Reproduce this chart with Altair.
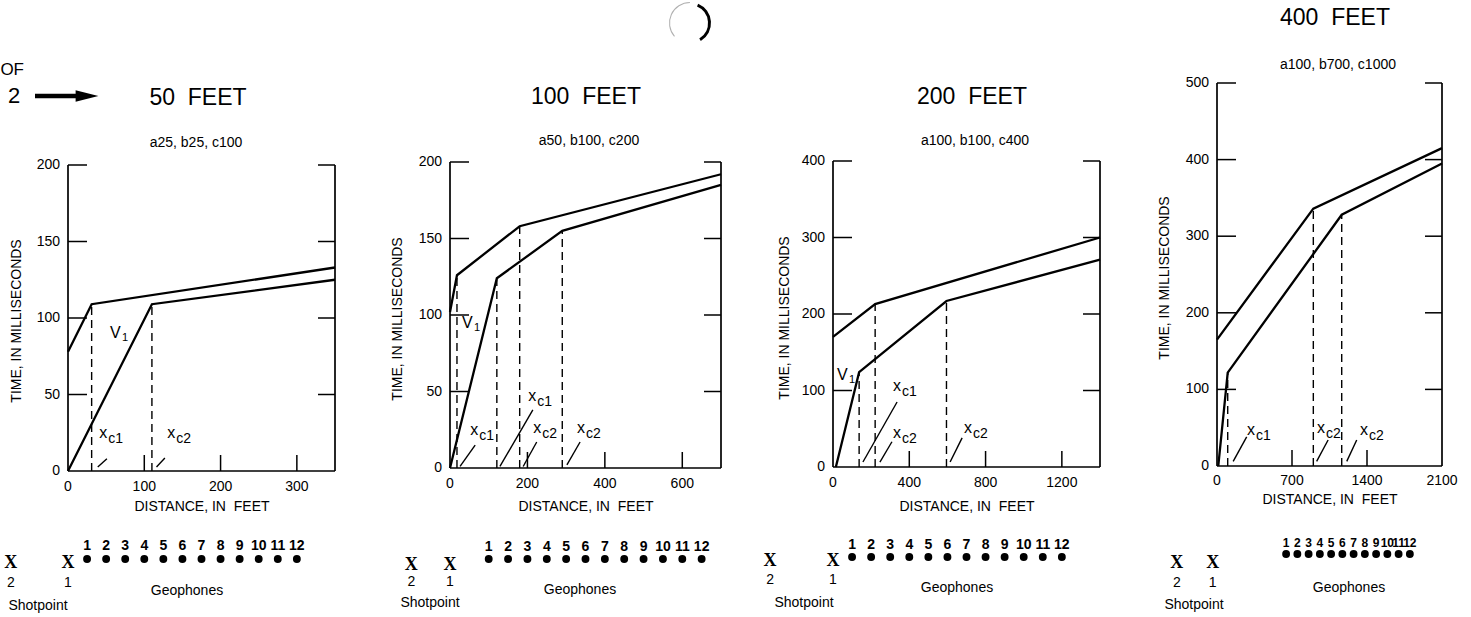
import altair as alt
import pandas as pd

IMG_H = 617
FONT = "Liberation Sans"

# ---------------- values ----------------
# Panel 1: 50 FEET
P1_UP_X = [0, 31, 350]
P1_UP_T = [78, 109, 133]
P1_LO_X = [0, 110, 350]
P1_LO_T = [0, 109, 125]
P1_DASH_X = [31, 110]
P1_DASH_T = [109, 109]
P1_XTICKS = [0, 100, 200, 300]
P1_YTICKS = [0, 50, 100, 150, 200]
P1_V1 = [55, 90]
P1_XC_LAB = ["c1", "c2"]
P1_XC_X = [41, 130]
P1_XC_T = [23.5, 23.5]
P1_LEAD = [[51, 8, 39, 2.6], [127, 8.5, 116, 2.6]]
P1_SHOT_X = [-75, 0]
P1_GEO_X = [25, 50, 75, 100, 125, 150, 175, 200, 225, 250, 275, 300]

# Panel 2: 100 FEET
P2_UP_X = [0, 18, 180, 700]
P2_UP_T = [102, 126, 158, 192]
P2_LO_X = [0, 121, 290, 700]
P2_LO_T = [0, 124, 155, 185]
P2_DASH_X = [18, 121, 180, 290]
P2_DASH_T = [126, 124, 158, 155]
P2_XTICKS = [0, 200, 400, 600]
P2_YTICKS = [0, 50, 100, 150, 200]
P2_V1 = [31, 95]
P2_XC_LAB = ["c1", "c1", "c2", "c2"]
P2_XC_X = [52, 202, 215, 328]
P2_XC_T = [23.5, 46, 25, 25]
P2_LEAD = [[65, 15, 26, 1], [214, 38, 129, 1], [224, 17, 189, 1], [336, 17, 302, 2]]
P2_SHOT_X = [-100, 0]
P2_GEO_X = [100, 150, 200, 250, 300, 350, 400, 450, 500, 550, 600, 650]

# Panel 3: 200 FEET
P3_UP_X = [0, 221, 1400]
P3_UP_T = [170, 213, 300]
P3_LO_X = [15, 137, 595, 1400]
P3_LO_T = [0, 124, 217, 271]
P3_DASH_X = [137, 221, 595]
P3_DASH_T = [124, 213, 217]
P3_XTICKS = [0, 400, 800, 1200]
P3_YTICKS = [0, 100, 200, 300, 400]
P3_V1 = [21, 120]
P3_XC_LAB = ["c1", "c2", "c2"]
P3_XC_X = [315, 315, 687]
P3_XC_T = [103, 42, 48]
P3_LEAD = [[336, 85, 157, 6.5], [309, 33, 246, 6.5], [677, 38, 614, 6.5]]
P3_SHOT_X = [-330, 0]
P3_GEO_X = [100, 200, 300, 400, 500, 600, 700, 800, 900, 1000, 1100, 1200]

# Panel 4: 400 FEET
P4_UP_X = [0, 899, 2100]
P4_UP_T = [165, 336, 415]
P4_LO_X = [12, 100, 1164, 2100]
P4_LO_T = [0, 122, 328, 395]
P4_DASH_X = [100, 899, 1164]
P4_DASH_T = [122, 336, 328]
P4_XTICKS = [0, 700, 1400, 2100]
P4_YTICKS = [0, 100, 200, 300, 400, 500]
P4_V1 = None
P4_XC_LAB = ["c1", "c2", "c2"]
P4_XC_X = [280, 933, 1335]
P4_XC_T = [44, 47, 44]
P4_LEAD = [[277, 38, 151, 6], [1037, 34, 930, 6], [1304, 34, 1211, 6]]
P4_SHOT_X = [-375, -40]
P4_GEO_X = [645, 750, 855, 960, 1065, 1170, 1275, 1380, 1485, 1590, 1695, 1800]

NBSP = "\u00a0"
TITLES = ["50" + NBSP * 2 + "FEET", "100" + NBSP * 2 + "FEET", "200" + NBSP * 2 + "FEET", "400" + NBSP * 2 + "FEET"]
SUBTITLES = ["a25, b25, c100", "a50, b100, c200", "a100, b100, c400", "a100, b700, c1000"]
GEO_LABELS = ["1", "2", "3", "4", "5", "6", "7", "8", "9", "10", "11", "12"]
SHOT_LABELS = ["2", "1"]
Y_TITLE = "TIME, IN MILLISECONDS"
X_TITLE = "DISTANCE, IN" + NBSP + " FEET"

# ---------------- layout (pixels in the 1471x617 picture) ----------------
LAYOUT = [
    dict(left=0, right=390, x0=68, xend=335, bottom=471, ytop=165,
         title=(198, 98), sub=(196, 143), ytitle=(17, 321), xtitle=(202, 507), xlab_dy=16,
         num_y=546, num_size=14, dot_y=559, shot_y=563, shotnum_y=583, geo=(187, 591), shotp=(38, 606)),
    dict(left=390, right=775, x0=450, xend=721, bottom=468, ytop=162,
         title=(586, 97), sub=(589, 141), ytitle=(398, 319), xtitle=(586, 507), xlab_dy=16,
         num_y=547, num_size=14, dot_y=559, shot_y=565, shotnum_y=582, geo=(580, 590), shotp=(430, 603)),
    dict(left=775, right=1160, x0=833, xend=1100, bottom=467, ytop=161,
         title=(972, 97), sub=(975, 141), ytitle=(785, 318), xtitle=(967, 507), xlab_dy=16,
         num_y=545, num_size=14, dot_y=557, shot_y=561, shotnum_y=580, geo=(957, 588), shotp=(804, 603)),
    dict(left=1160, right=1471, x0=1217, xend=1442, bottom=466, ytop=83,
         title=(1335, 18), sub=(1338, 65), ytitle=(1165, 278), xtitle=(1330, 500), xlab_dy=15,
         num_y=543, num_size=12, dot_y=554, shot_y=563, shotnum_y=583, geo=(1349, 588), shotp=(1194, 605)),
]

PANELS = [
    dict(up_x=P1_UP_X, up_t=P1_UP_T, lo_x=P1_LO_X, lo_t=P1_LO_T, dash_x=P1_DASH_X, dash_t=P1_DASH_T,
         xticks=P1_XTICKS, yticks=P1_YTICKS, v1=P1_V1, xc_lab=P1_XC_LAB, xc_x=P1_XC_X, xc_t=P1_XC_T,
         lead=P1_LEAD, shot_x=P1_SHOT_X, geo_x=P1_GEO_X),
    dict(up_x=P2_UP_X, up_t=P2_UP_T, lo_x=P2_LO_X, lo_t=P2_LO_T, dash_x=P2_DASH_X, dash_t=P2_DASH_T,
         xticks=P2_XTICKS, yticks=P2_YTICKS, v1=P2_V1, xc_lab=P2_XC_LAB, xc_x=P2_XC_X, xc_t=P2_XC_T,
         lead=P2_LEAD, shot_x=P2_SHOT_X, geo_x=P2_GEO_X),
    dict(up_x=P3_UP_X, up_t=P3_UP_T, lo_x=P3_LO_X, lo_t=P3_LO_T, dash_x=P3_DASH_X, dash_t=P3_DASH_T,
         xticks=P3_XTICKS, yticks=P3_YTICKS, v1=P3_V1, xc_lab=P3_XC_LAB, xc_x=P3_XC_X, xc_t=P3_XC_T,
         lead=P3_LEAD, shot_x=P3_SHOT_X, geo_x=P3_GEO_X),
    dict(up_x=P4_UP_X, up_t=P4_UP_T, lo_x=P4_LO_X, lo_t=P4_LO_T, dash_x=P4_DASH_X, dash_t=P4_DASH_T,
         xticks=P4_XTICKS, yticks=P4_YTICKS, v1=P4_V1, xc_lab=P4_XC_LAB, xc_x=P4_XC_X, xc_t=P4_XC_T,
         lead=P4_LEAD, shot_x=P4_SHOT_X, geo_x=P4_GEO_X),
]

NO_FRAME = alt.ViewBackground(stroke="transparent", strokeWidth=0, fill="white")


def text_at(L, txt, x, y, **kw):
    style = dict(font=FONT, fontSize=14, color="black", baseline="middle", align="center")
    style.update(kw)
    return alt.Chart(pd.DataFrame({"t": [txt]})).mark_text(**style).encode(
        x=alt.value(x - L["left"]), y=alt.value(y), text="t:N")


def build_panel(i):
    d, L = PANELS[i], LAYOUT[i]
    ymax = d["yticks"][-1]
    xmax = d["up_x"][-1]
    kx = (L["xend"] - L["x0"]) / xmax
    ky = (L["bottom"] - L["ytop"]) / ymax
    xs = alt.Scale(domain=[(L["left"] - L["x0"]) / kx, (L["right"] - L["x0"]) / kx], nice=False, zero=False)
    ys = alt.Scale(domain=[-(IMG_H - L["bottom"]) / ky, L["bottom"] / ky], nice=False, zero=False)

    def X(f):
        return alt.X(f, type="quantitative", scale=xs, axis=None)

    def Y(f):
        return alt.Y(f, type="quantitative", scale=ys, axis=None)

    layers = []
    # frame: left, right, bottom
    frame = pd.DataFrame({"x": [0, xmax, 0], "x2": [0, xmax, xmax], "y": [0, 0, 0], "y2": [ymax, ymax, 0]})
    layers.append(alt.Chart(frame).mark_rule(color="black", strokeWidth=1.7).encode(
        x=X("x"), x2=alt.X2("x2"), y=Y("y"), y2=alt.Y2("y2")))
    # y ticks (inward) on both sides
    yt = pd.DataFrame({"v": d["yticks"][1:], "a": 0, "b": xmax})
    layers.append(alt.Chart(yt).mark_rule(color="black", strokeWidth=1.5, x2Offset=19).encode(
        x=X("a"), x2=alt.X2("a"), y=Y("v")))
    layers.append(alt.Chart(yt).mark_rule(color="black", strokeWidth=1.5, x2Offset=-17).encode(
        x=X("b"), x2=alt.X2("b"), y=Y("v")))
    # x ticks (inward, up) on the bottom
    inner = [v for v in d["xticks"] if 0 < v < xmax]
    xt = pd.DataFrame({"v": inner, "z": 0})
    layers.append(alt.Chart(xt).mark_rule(color="black", strokeWidth=1.5, y2Offset=-16).encode(
        x=X("v"), y=Y("z"), y2=alt.Y2("z")))
    # tick labels
    yl = pd.DataFrame({"v": d["yticks"], "lab": [str(v) for v in d["yticks"]], "a": 0})
    layers.append(alt.Chart(yl).mark_text(font=FONT, fontSize=14, align="right", baseline="middle",
                                          dx=-8, color="black").encode(x=X("a"), y=Y("v"), text="lab:N"))
    xl = pd.DataFrame({"v": d["xticks"], "lab": [str(v) for v in d["xticks"]], "z": 0})
    layers.append(alt.Chart(xl).mark_text(font=FONT, fontSize=14, align="center", baseline="middle",
                                          dy=L["xlab_dy"], color="black").encode(x=X("v"), y=Y("z"), text="lab:N"))
    # dashed verticals
    dash = pd.DataFrame({"x": d["dash_x"], "t": d["dash_t"], "z": 0})
    layers.append(alt.Chart(dash).mark_rule(color="black", strokeWidth=1.4, strokeDash=[8, 5]).encode(
        x=X("x"), y=Y("z"), y2=alt.Y2("t")))
    # travel-time curves
    lines = pd.DataFrame({
        "x": d["up_x"] + d["lo_x"],
        "t": d["up_t"] + d["lo_t"],
        "s": ["upper"] * len(d["up_x"]) + ["lower"] * len(d["lo_x"]),
    })
    layers.append(alt.Chart(lines).mark_line(color="black", strokeWidth=2.3).encode(
        x=X("x"), y=Y("t"), detail="s:N"))
    # leaders
    ld = pd.DataFrame(d["lead"], columns=["x", "t", "x2", "t2"])
    layers.append(alt.Chart(ld).mark_rule(color="black", strokeWidth=1.4).encode(
        x=X("x"), y=Y("t"), x2=alt.X2("x2"), y2=alt.Y2("t2")))
    # x_c labels
    xc = pd.DataFrame({"x": d["xc_x"], "t": d["xc_t"], "sub": d["xc_lab"], "main": "x"})
    layers.append(alt.Chart(xc).mark_text(font=FONT, fontSize=16, align="left", baseline="middle",
                                          color="black", dy=-2).encode(x=X("x"), y=Y("t"), text="main:N"))
    layers.append(alt.Chart(xc).mark_text(font=FONT, fontSize=14, align="left", baseline="middle",
                                          color="black", dx=9, dy=4).encode(x=X("x"), y=Y("t"), text="sub:N"))
    # V1 label
    if d["v1"] is not None:
        v1 = pd.DataFrame({"x": [d["v1"][0]], "t": [d["v1"][1]], "m": ["V"], "s": ["1"]})
        layers.append(alt.Chart(v1).mark_text(font=FONT, fontSize=16, align="left", baseline="middle",
                                              color="black").encode(x=X("x"), y=Y("t"), text="m:N"))
        layers.append(alt.Chart(v1).mark_text(font=FONT, fontSize=11, align="left", baseline="middle",
                                              color="black", dx=12, dy=5).encode(x=X("x"), y=Y("t"), text="s:N"))
    # geophone spread
    geo = pd.DataFrame({"x": d["geo_x"], "n": GEO_LABELS})
    layers.append(alt.Chart(geo).mark_text(font=FONT, fontSize=L["num_size"], fontWeight="bold", align="center",
                                           baseline="middle", color="black").encode(
        x=X("x"), y=alt.value(L["num_y"]), text="n:N"))
    layers.append(alt.Chart(geo).mark_circle(size=62, color="black", opacity=1).encode(
        x=X("x"), y=alt.value(L["dot_y"])))
    shots = pd.DataFrame({"x": d["shot_x"], "n": SHOT_LABELS, "sym": "X"})
    layers.append(alt.Chart(shots).mark_text(font="Liberation Serif", fontSize=18, fontWeight="bold",
                                             align="center", baseline="middle", color="black").encode(
        x=X("x"), y=alt.value(L["shot_y"]), text="sym:N"))
    layers.append(alt.Chart(shots).mark_text(font=FONT, fontSize=14, align="center", baseline="middle",
                                             color="black").encode(
        x=X("x"), y=alt.value(L["shotnum_y"]), text="n:N"))
    # texts
    layers.append(text_at(L, TITLES[i], *L["title"], fontSize=23))
    layers.append(text_at(L, SUBTITLES[i], *L["sub"], fontSize=14))
    layers.append(text_at(L, Y_TITLE, *L["ytitle"], fontSize=14, angle=270))
    layers.append(text_at(L, X_TITLE, *L["xtitle"], fontSize=14))
    layers.append(text_at(L, "Geophones", *L["geo"], fontSize=14))
    layers.append(text_at(L, "Shotpoint", *L["shotp"], fontSize=14))

    if i == 0:
        layers.append(text_at(L, "OF", 24, 70, fontSize=17, align="right"))
        layers.append(text_at(L, "2", 14, 96, fontSize=22))
        arr = pd.DataFrame({"a": [0]})
        layers.append(alt.Chart(arr).mark_rule(color="black", strokeWidth=4.5).encode(
            x=alt.value(35), x2=alt.value(80), y=alt.value(96)))
        layers.append(alt.Chart(arr).mark_point(shape="M-1,-0.5L1,0L-1,0.5Z", size=520, filled=True,
                                                color="black", opacity=1).encode(
            x=alt.value(87), y=alt.value(96)))
    if i == 1:
        sm = pd.DataFrame({"a": [0]})
        layers.append(alt.Chart(sm).mark_arc(radius=21, radius2=18, theta=0.4, theta2=2.6, color="black",
                                             x=690 - L["left"], y=23))
        layers.append(alt.Chart(sm).mark_arc(radius=21, radius2=20, theta=4.0, theta2=6.28, color="#b0b0b0",
                                             x=690 - L["left"], y=23))

    return alt.layer(*layers).properties(width=L["right"] - L["left"], height=IMG_H, view=NO_FRAME)


chart = alt.hconcat(*[build_panel(i) for i in range(4)], spacing=0, bounds="flush", padding=0)
chart = chart.configure_view(strokeWidth=0, stroke="transparent").configure(background="white")

chart.save("out.html", embed_options={"renderer": "svg", "actions": False})
